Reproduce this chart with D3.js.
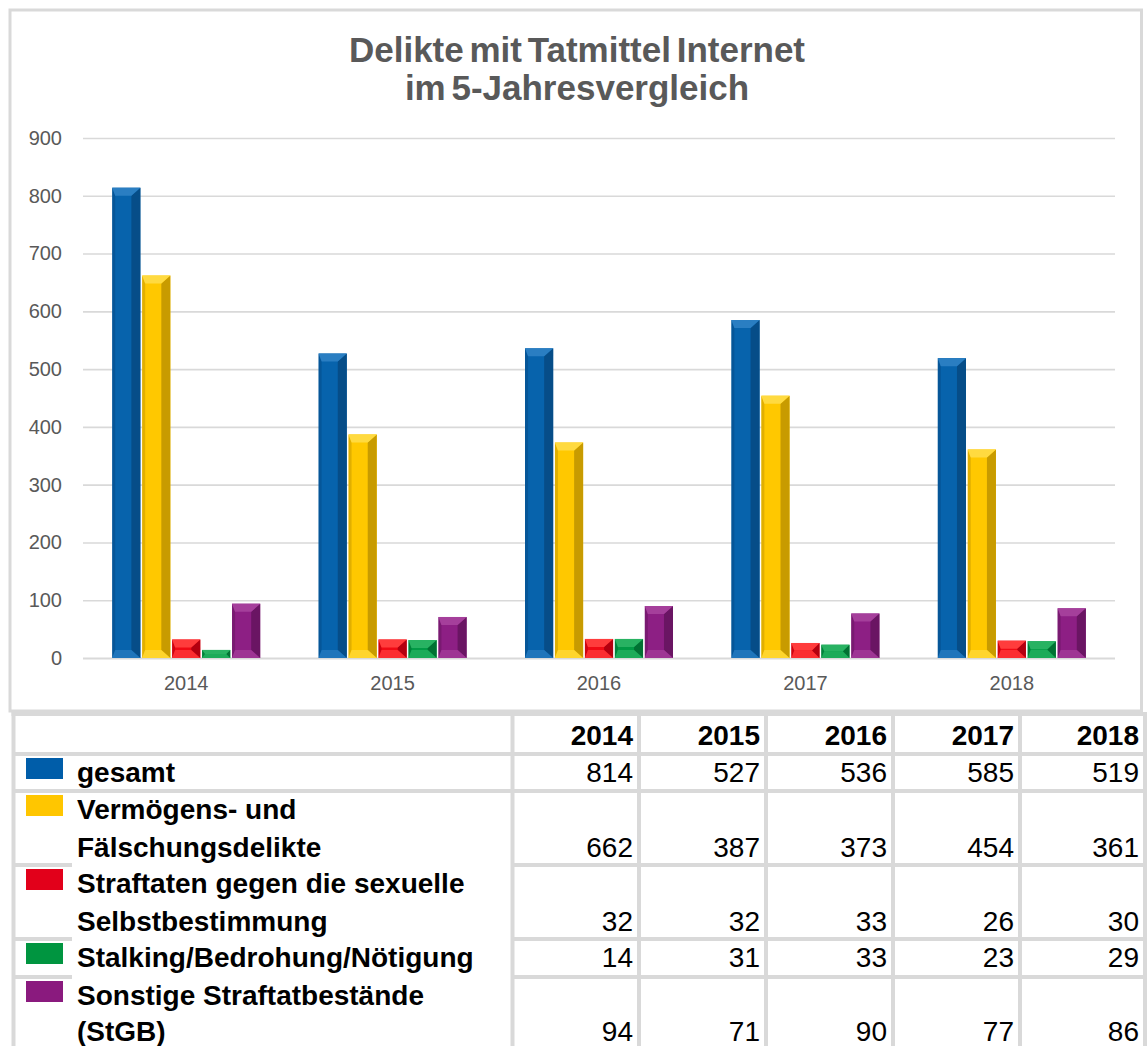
<!DOCTYPE html>
<html>
<head>
<meta charset="utf-8">
<script src="https://cdn.jsdelivr.net/npm/d3@7"></script>
<style>
html,body{margin:0;padding:0;background:#fff;}
svg{display:block;font-family:"Liberation Sans",Arial,sans-serif;}
</style>
</head>
<body>
<svg id="chart" width="1147" height="1046"></svg>
<script>
// ---- data ----
const years = ["2014", "2015", "2016", "2017", "2018"];
const seriesNames = ["gesamt", "Vermögens- und Fälschungsdelikte", "Straftaten gegen die sexuelle Selbstbestimmung", "Stalking/Bedrohung/Nötigung", "Sonstige Straftatbestände (StGB)"];
const gesamt = [814, 527, 536, 585, 519];
const vermoegens = [662, 387, 373, 454, 361];
const sexuell = [32, 32, 33, 26, 30];
const stalking = [14, 31, 33, 23, 29];
const sonstige = [94, 71, 90, 77, 86];
const yTicks = [0, 100, 200, 300, 400, 500, 600, 700, 800, 900];
const labelLines = [
  ["gesamt"],
  ["Vermögens- und", "Fälschungsdelikte"],
  ["Straftaten gegen die sexuelle", "Selbstbestimmung"],
  ["Stalking/Bedrohung/Nötigung"],
  ["Sonstige Straftatbestände", "(StGB)"]
];
const seriesValues = [gesamt, vermoegens, sexuell, stalking, sonstige];
const colors = [
  {base: "#0763AC", light: "#2A7EC2", dark: "#064D88", sw: "#005DA9"},
  {base: "#FFC800", light: "#FFDA40", dark: "#C89B00", sw: "#FFC600"},
  {base: "#F00A14", light: "#FF3C3C", dark: "#B3000F", sw: "#E2001A"},
  {base: "#019A45", light: "#28B262", dark: "#017133", sw: "#009540"},
  {base: "#8D1F84", light: "#A53F9B", dark: "#6A1563", sw: "#8A1A7E"}
];

const svg = d3.select("#chart");
const grey = "#595959";
const lineGrey = "#d9d9d9";

// chart border
svg.append("rect").attr("x", 10).attr("y", 10).attr("width", 1131.5).attr("height", 701)
  .attr("fill", "#fff").attr("stroke", lineGrey).attr("stroke-width", 3);

// title
const title = svg.append("text").attr("text-anchor", "middle").attr("fill", grey)
  .attr("font-weight", "bold").attr("font-size", 35).style("word-spacing", "-4px");
title.append("tspan").attr("x", 577).attr("y", 62).text("Delikte mit Tatmittel Internet");
title.append("tspan").attr("x", 577).attr("y", 100).text("im 5-Jahresvergleich");

// scales
const y = d3.scaleLinear().domain([0, 900]).range([658, 138]);
const x0 = d3.scaleBand().domain(years).range([83, 1115]).paddingInner(0.283).paddingOuter(0.1415);
const x1 = d3.scaleBand().domain(d3.range(seriesValues.length)).range([0, x0.bandwidth()]).paddingInner(0.06);

// grid
const yAxis = d3.axisLeft(y).tickValues(yTicks).tickSize(-(1115 - 83)).tickPadding(21);
const gy = svg.append("g").attr("transform", "translate(83,0)").call(yAxis);
gy.select(".domain").remove();
gy.selectAll(".tick line").attr("stroke", lineGrey).attr("stroke-width", 1.6);
gy.selectAll(".tick text").attr("fill", grey).attr("font-size", 20)
  .attr("font-family", "'Liberation Sans', Arial, sans-serif");
gy.selectAll(".tick").filter(d => d === 0).select("line").attr("stroke-width", 2.2);

// x axis labels
const xAxis = d3.axisBottom(x0).tickSize(0).tickPadding(18);
const gx = svg.append("g").attr("transform", "translate(0,658)").call(xAxis);
gx.select(".domain").remove();
gx.selectAll(".tick text").attr("fill", grey).attr("font-size", 20)
  .attr("font-family", "'Liberation Sans', Arial, sans-serif");

// bars with bevel
const barData = [];
years.forEach((yr, i) => {
  seriesValues.forEach((vals, s) => barData.push({yr, s, v: vals[i]}));
});
const bars = svg.append("g").selectAll("g").data(barData).join("g");
bars.each(function(d) {
  const g = d3.select(this);
  const bx = x0(d.yr) + x1(d.s);
  const w = x1.bandwidth();
  const top = y(d.v), bot = y(0);
  const h = bot - top;
  const c = colors[d.s];
  const b = Math.min(8, h / 2, w / 3);
  const br = Math.min(9, h / 2, w / 3);
  g.append("rect").attr("x", bx).attr("y", top).attr("width", w).attr("height", h).attr("fill", c.base);
  // left bevel
  g.append("polygon").attr("points", [[bx, top], [bx + 3, top + b], [bx + 3, bot - b], [bx, bot]].join(" "))
    .attr("fill", c.dark).attr("opacity", 0.55);
  // right bevel
  g.append("polygon").attr("points", [[bx + w, top], [bx + w - br, top + b], [bx + w - br, bot - b], [bx + w, bot]].join(" "))
    .attr("fill", c.dark);
  // top bevel
  g.append("polygon").attr("points", [[bx, top], [bx + w, top], [bx + w - br, top + b], [bx + 3, top + b]].join(" "))
    .attr("fill", c.light);
  // bottom bevel
  g.append("polygon").attr("points", [[bx, bot], [bx + w, bot], [bx + w - br, bot - b], [bx + 3, bot - b]].join(" "))
    .attr("fill", c.light).attr("opacity", 0.7);
});

// ---- table ----
const tbl = svg.append("g");
const colX = [13.5, 512.5, 639, 766, 893, 1020, 1145];
const headerTop = 714;
const lineH = 37;
const rowTops = [754];
labelLines.forEach((ls, i) => rowTops.push(rowTops[i] + ls.length * lineH + (i === 3 ? 1 : 0)));
const tableBottom = 1060;

// horizontal lines
tbl.append("line").attr("x1", colX[0] - 2).attr("x2", colX[6]).attr("y1", headerTop).attr("y2", headerTop)
  .attr("stroke", lineGrey).attr("stroke-width", 4);
rowTops.forEach((t, i) => {
  if (t > 1046) return;
  const full = i <= 1;
  if (full) {
    tbl.append("line").attr("x1", colX[0]).attr("x2", colX[6]).attr("y1", t).attr("y2", t)
      .attr("stroke", lineGrey).attr("stroke-width", 4);
  } else {
    tbl.append("line").attr("x1", colX[0]).attr("x2", 72).attr("y1", t).attr("y2", t)
      .attr("stroke", lineGrey).attr("stroke-width", 4);
    tbl.append("line").attr("x1", colX[1]).attr("x2", colX[6]).attr("y1", t).attr("y2", t)
      .attr("stroke", lineGrey).attr("stroke-width", 4);
  }
});
// vertical lines
colX.forEach(cx => {
  tbl.append("line").attr("x1", cx).attr("x2", cx).attr("y1", headerTop - 2).attr("y2", tableBottom)
    .attr("stroke", lineGrey).attr("stroke-width", 4);
});

// header
years.forEach((yr, j) => {
  tbl.append("text").attr("x", colX[j + 2] - 6).attr("y", headerTop + 31).attr("text-anchor", "end")
    .attr("font-weight", "bold").attr("font-size", 28).attr("fill", "#000").text(yr);
});

// rows
labelLines.forEach((ls, i) => {
  const t = rowTops[i];
  const last = i === labelLines.length - 1;
  tbl.append("rect").attr("x", 26).attr("y", t + 4).attr("width", 37).attr("height", 21).attr("fill", colors[i].sw);
  ls.forEach((line, k) => {
    tbl.append("text").attr("x", 77).attr("y", t + 28 + k * (lineH + (last ? -1 : 1))).attr("font-weight", "bold")
      .attr("font-size", 28).attr("fill", "#000").text(line);
  });
  const by = t + 28 + (ls.length - 1) * (lineH + (last ? -1 : 1));
  seriesValues[i].forEach((v, j) => {
    tbl.append("text").attr("x", colX[j + 2] - 6).attr("y", by).attr("text-anchor", "end")
      .attr("font-size", 28).attr("fill", "#000").text(v);
  });
});
</script>
</body>
</html>
